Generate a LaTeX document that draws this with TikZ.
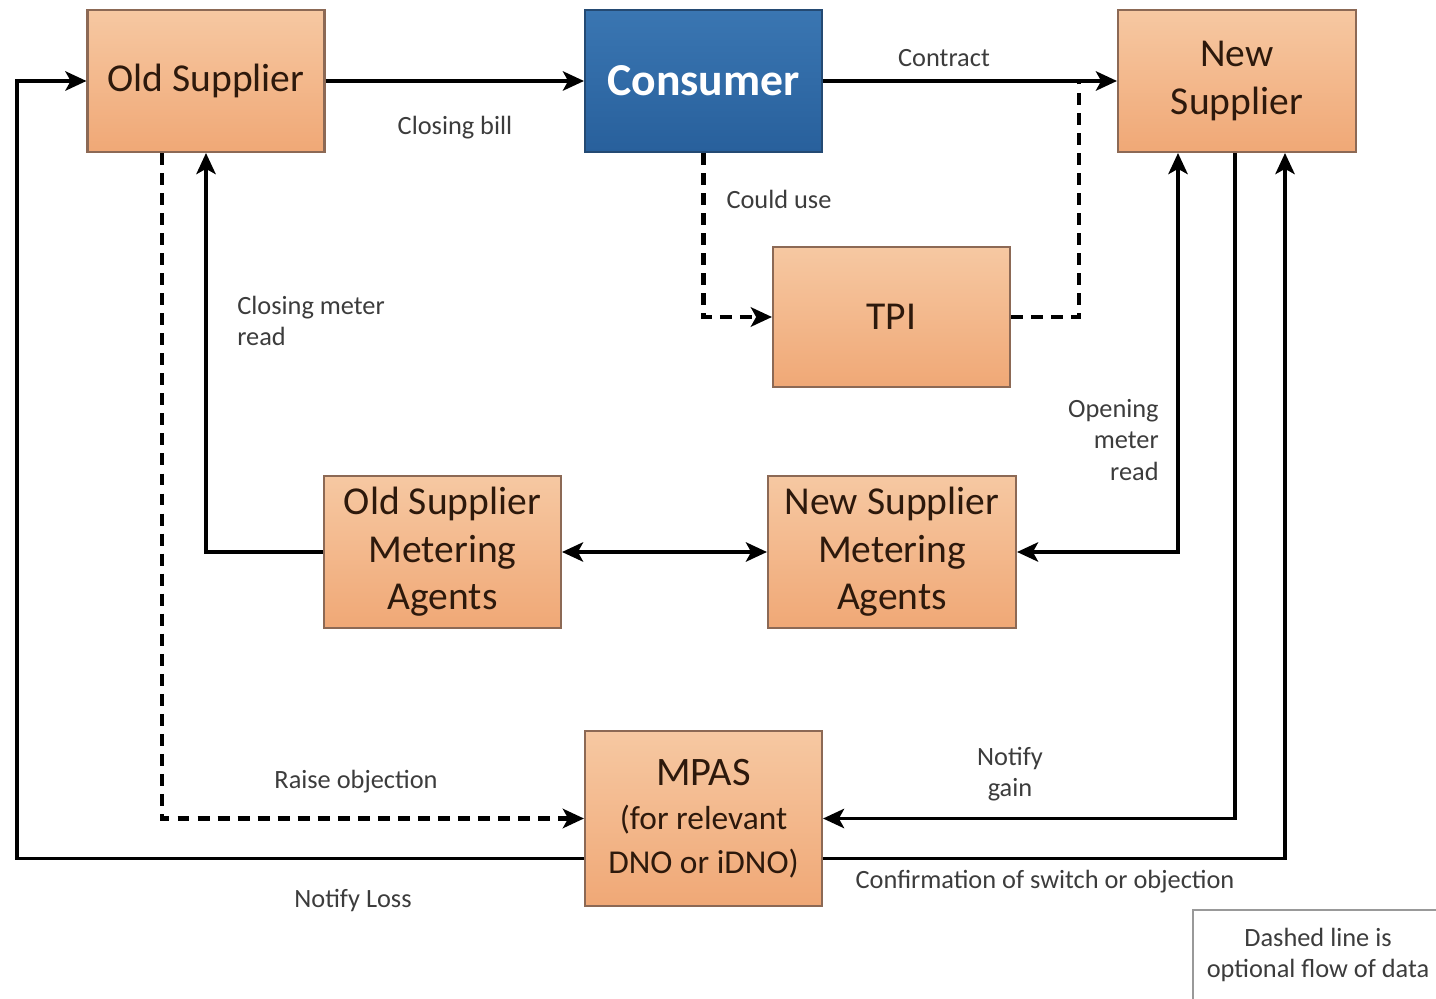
\documentclass[tikz,border=0pt]{standalone}
\usepackage{fontspec}
\setmainfont{Carlito}
\usetikzlibrary{arrows.meta,calc}

\definecolor{boxtop}{RGB}{246,200,162}
\definecolor{boxbot}{RGB}{240,168,118}
\definecolor{boxline}{RGB}{140,105,85}
\definecolor{boxtext}{RGB}{45,25,12}
\definecolor{bluetop}{RGB}{58,118,178}
\definecolor{bluebot}{RGB}{40,96,156}
\definecolor{blueline}{RGB}{36,74,115}
\definecolor{labeltext}{RGB}{60,60,60}

\tikzset{
  procbox/.style={draw=boxline, line width=1.2pt, top color=boxtop, bottom color=boxbot,
    text=boxtext, font=\fontsize{22.5}{27}\selectfont, align=center, inner sep=2pt,
    minimum width=4.74cm, minimum height=2.84cm},
  keybox/.style={procbox, draw=blueline, top color=bluetop, bottom color=bluebot,
    text=white, font=\fontsize{26}{30}\selectfont\bfseries},
  flow/.style={line width=2.1pt, draw=black, -{Stealth[length=12pt,width=11pt,inset=3pt]}},
  bothflow/.style={flow, {Stealth[length=12pt,width=11pt,inset=3pt]}-{Stealth[length=12pt,width=11pt,inset=3pt]}},
  optflow/.style={flow, line width=2.3pt, dash pattern=on 6.8pt off 4.6pt},
  optline/.style={line width=2.3pt, draw=black, dash pattern=on 6.8pt off 4.6pt},
  flowlabel/.style={text=labeltext, font=\fontsize{15}{18}\selectfont, inner sep=0pt},
}

\begin{document}
\begin{tikzpicture}[x=0.02cm, y=-0.02cm]
  \useasboundingbox (0,0) rectangle (1436,999);

  % process boxes
  \node[procbox] (os) at (206,81) {Old Supplier};
  \node[keybox] (con) at (703.5,81) {Consumer};
  \node[procbox, minimum width=4.76cm] (ns) at (1237,81) {New\\Supplier};
  \node[procbox, minimum height=2.8cm] (tpi) at (891.5,317) {TPI};
  \node[procbox, minimum height=3.04cm] (osma) at (442.5,552) {Old Supplier\\Metering\\Agents};
  \node[procbox, minimum width=4.96cm, minimum height=3.04cm] (nsma) at (892,552) {New Supplier\\Metering\\Agents};
  \node[procbox, minimum height=3.5cm, font=\fontsize{19}{25}\selectfont] (mpas) at (703.5,818.5)
    {{\fontsize{23}{25}\selectfont MPAS}\\(for relevant\\DNO or iDNO)};

  % legend
  \draw[draw=black!40, line width=1pt, fill=white] (1193,910) rectangle (1445,1010);
  \node[flowlabel, align=center] (legend) at (1318,955) {Dashed line is\\optional flow of data};

  % corner points of the outer loops
  \coordinate (lft) at (17,81);
  \coordinate (join) at ($(ns.west)+(-38,0)$);

  % top row
  \draw[flow] (os.east) -- (con.west);
  \draw[flow] (con.east) -- (ns.west);

  % consumer via TPI
  \draw[optflow] (con.south) |- (tpi.west);
  \draw[optline] (tpi.east) -| (join);

  % meter reads
  \draw[flow] (osma.west) -| (os.south);
  \draw[bothflow] (osma.east) -- (nsma.west);
  \draw[bothflow] (nsma.east) -| ($(ns.south)+(-59,0)$);

  % objection and gain
  \draw[optflow] ($(os.south)+(-44,0)$) |- (mpas.west);
  \draw[flow] ($(ns.south)+(-2,0)$) |- (mpas.east);

  % loss and confirmation
  \draw[flow] ($(mpas.west)+(0,40)$) -| (lft) -- (os.west);
  \draw[flow] ($(mpas.east)+(0,40)$) -| ($(ns.south)+(48,0)$);

  % connector labels
  \node[flowlabel] (lclose) at (455,128) {Closing bill};
  \node[flowlabel] (lcontract) at (944,58) {Contract};
  \node[flowlabel] (lcould) at (779,199) {Could use};
  \node[flowlabel, align=left, anchor=west] (lcmr) at (237,321) {Closing meter\\read};
  \node[flowlabel, align=right, anchor=east] (lomr) at (1159,440) {Opening\\meter\\read};
  \node[flowlabel] (lraise) at (356,782) {Raise objection};
  \node[flowlabel, align=center] (lgain) at (1010,774) {Notify\\gain};
  \node[flowlabel] (lloss) at (353,901) {Notify Loss};
  \node[flowlabel] (lconf) at (1045,882) {Confirmation of switch or objection};
\end{tikzpicture}
\end{document}
